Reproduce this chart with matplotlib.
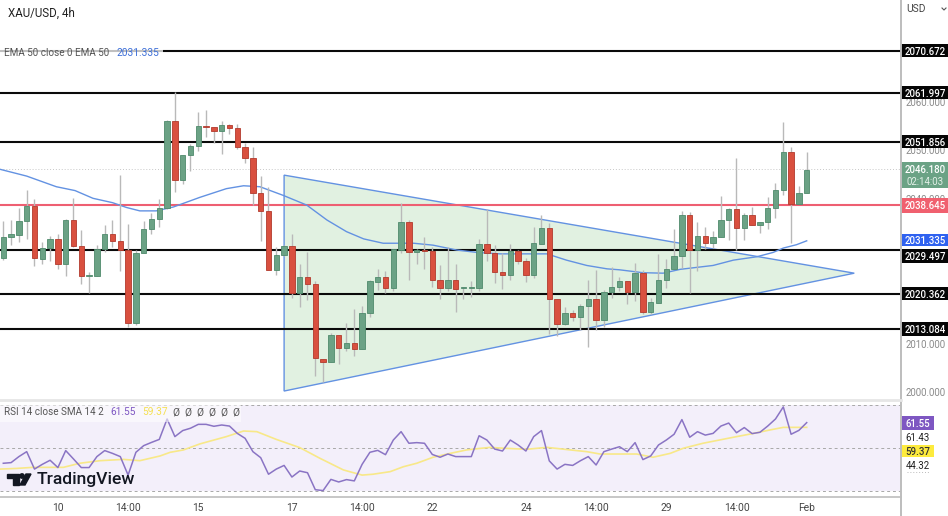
#!/usr/bin/env python3
"""XAU/USD 4h candles with EMA 50, hand drawn levels, triangle and RSI pane"""

import numpy as np
import matplotlib
matplotlib.use('Agg')
import matplotlib.pyplot as plt
from matplotlib.patches import Rectangle, Polygon, Circle

plt.rcParams['font.family'] = ['Roboto', 'DejaVu Sans']

# Candles
opens = [2027.8, 2032.1, 2032.6, 2035.4, 2038.5, 2027.6, 2029.9, 2031.7, 2026.6, 2035.6,
         2030.2, 2024.0, 2024.1, 2029.6, 2032.8, 2031.2, 2029.3, 2014.3, 2028.8, 2033.8,
         2035.9, 2038.1, 2056.1, 2043.8, 2049.0, 2050.9, 2055.0, 2054.8, 2054.0, 2055.3,
         2054.6, 2050.8, 2048.4, 2041.1, 2037.5, 2025.2, 2028.3, 2030.2, 2020.6, 2023.8,
         2022.3, 2006.9, 2006.2, 2011.7, 2009.2, 2010.2, 2009.0, 2016.3, 2022.8, 2023.9,
         2021.5, 2029.5, 2035.2, 2028.9, 2029.5, 2029.1, 2023.1, 2021.6, 2023.1, 2021.5,
         2021.6, 2021.6, 2030.6, 2028.7, 2024.9, 2024.2, 2029.1, 2027.1, 2024.3, 2030.7,
         2033.9, 2019.2, 2014.1, 2016.4, 2015.6, 2017.8, 2019.3, 2014.9, 2020.8, 2021.8,
         2023.0, 2020.8, 2024.6, 2016.6, 2018.5, 2023.1, 2025.4, 2028.2, 2036.7, 2029.4,
         2032.4, 2030.9, 2032.1, 2035.6, 2037.8, 2033.9, 2036.7, 2034.6, 2035.1, 2038.0,
         2041.8, 2049.6, 2038.9, 2041.2]
highs = [2035.5, 2035.7, 2038.0, 2041.9, 2040.0, 2031.1, 2032.4, 2032.8, 2035.9, 2040.1,
         2033.5, 2024.9, 2030.4, 2034.6, 2035.6, 2045.0, 2034.8, 2029.4, 2035.5, 2037.1,
         2039.9, 2056.4, 2062.2, 2049.0, 2051.3, 2057.9, 2058.4, 2054.8, 2056.2, 2055.5,
         2055.5, 2051.5, 2050.8, 2044.8, 2042.4, 2030.1, 2030.4, 2032.8, 2026.5, 2028.9,
         2022.9, 2006.9, 2012.2, 2011.7, 2014.2, 2017.1, 2017.8, 2023.2, 2025.5, 2025.0,
         2029.7, 2039.2, 2035.6, 2029.7, 2032.0, 2030.0, 2026.2, 2030.1, 2026.5, 2021.8,
         2023.0, 2031.6, 2037.8, 2030.4, 2028.7, 2030.6, 2029.5, 2027.7, 2034.1, 2036.6,
         2035.0, 2019.2, 2017.7, 2017.0, 2018.2, 2023.1, 2025.3, 2021.1, 2025.8, 2023.9,
         2023.0, 2026.8, 2025.3, 2019.4, 2028.6, 2027.6, 2033.8, 2037.4, 2037.3, 2035.1,
         2034.1, 2033.3, 2040.5, 2038.0, 2048.4, 2037.0, 2038.4, 2035.1, 2040.3, 2043.2,
         2055.8, 2050.8, 2042.7, 2049.6]
lows = [2027.3, 2030.4, 2031.1, 2031.6, 2026.1, 2026.6, 2027.2, 2025.4, 2024.0, 2030.1,
        2022.3, 2020.6, 2024.1, 2028.9, 2030.1, 2025.0, 2013.4, 2013.9, 2028.8, 2032.8,
        2034.2, 2037.9, 2041.5, 2043.0, 2045.7, 2049.8, 2052.7, 2051.5, 2049.2, 2053.4,
        2050.4, 2047.5, 2038.7, 2031.3, 2025.2, 2024.2, 2028.2, 2019.4, 2017.6, 2019.0,
        2003.4, 2002.0, 2006.2, 2005.7, 2008.4, 2007.5, 2009.0, 2015.6, 2021.1, 2020.4,
        2020.9, 2028.7, 2023.2, 2026.5, 2025.4, 2021.8, 2019.2, 2021.0, 2016.6, 2019.2,
        2019.6, 2020.9, 2027.1, 2022.5, 2021.3, 2023.1, 2026.5, 2022.8, 2023.7, 2030.6,
        2012.0, 2011.5, 2013.9, 2014.6, 2012.8, 2009.4, 2012.8, 2013.5, 2019.4, 2020.9,
        2018.2, 2018.9, 2016.2, 2016.2, 2018.5, 2021.6, 2025.4, 2025.6, 2020.6, 2025.1,
        2029.6, 2029.9, 2032.0, 2031.4, 2029.4, 2031.5, 2034.5, 2032.9, 2033.8, 2036.1,
        2040.8, 2030.9, 2038.9, 2041.2]
closes = [2032.1, 2032.7, 2035.4, 2038.5, 2027.7, 2029.8, 2031.7, 2026.6, 2035.6, 2030.2,
          2024.1, 2024.2, 2029.7, 2032.8, 2031.2, 2029.3, 2014.3, 2028.8, 2033.8, 2035.9,
          2038.1, 2056.1, 2043.8, 2049.0, 2050.9, 2055.0, 2054.8, 2054.0, 2055.3, 2054.6,
          2050.8, 2048.4, 2041.1, 2037.5, 2025.2, 2028.3, 2030.2, 2020.6, 2023.8, 2022.3,
          2007.0, 2006.2, 2011.7, 2009.2, 2010.2, 2009.0, 2016.3, 2022.9, 2023.9, 2021.5,
          2029.7, 2035.2, 2029.0, 2029.5, 2029.1, 2023.1, 2021.6, 2023.1, 2021.4, 2021.7,
          2021.7, 2030.6, 2028.7, 2024.9, 2024.2, 2029.1, 2027.1, 2024.3, 2030.8, 2033.9,
          2019.2, 2014.1, 2016.4, 2015.6, 2017.8, 2019.3, 2014.9, 2020.7, 2021.8, 2023.0,
          2020.8, 2024.6, 2016.6, 2018.6, 2023.1, 2025.4, 2028.2, 2036.7, 2029.4, 2032.4,
          2030.9, 2032.1, 2035.6, 2037.8, 2034.0, 2036.7, 2034.6, 2035.1, 2038.0, 2041.8,
          2049.6, 2038.9, 2041.2, 2046.0]

# EMA 50, read at these bar positions
ema_idx = [-0.4, 3, 6.8, 9.2, 11.5, 14, 15.8, 17.5, 19.6, 21.8, 25.2, 28.6, 30.8, 32.9, 35.9, 38.9,
           41.5, 44, 46.2, 48.7, 52.6, 55.1, 58.1, 60.7, 63.7, 67.1, 69.7, 72.2, 74.8, 77.4,
           79, 82, 84.6, 86.8, 91, 93.6, 96.6, 98.7, 100, 101.7, 103]
ema_vals = [2046.1, 2044.7, 2042.5, 2041.7, 2040.1, 2039.2, 2038.2, 2037.5, 2037.5, 2038.3, 2040.3,
            2042.1, 2042.7, 2042.5, 2040.7, 2038.7, 2035.6, 2033.2, 2031.7, 2030.8, 2030.8, 2030.4,
            2029.4, 2028.9, 2028.6, 2028.6, 2028.6, 2027.3, 2026.2, 2025.5, 2025.3, 2024.7, 2024.6,
            2025.4, 2026.2, 2027.3, 2028.0, 2028.9, 2029.8, 2030.5, 2031.3]

# RSI, one value per bar
rsi_vals = [42.9, 43.2, 46.0, 48.3, 40.2, 42.4, 44.3, 40.9, 48.8, 44.9, 40.9, 40.9, 46.0, 48.8,
            47.5, 46.0, 37.4, 48.0, 51.1, 52.6, 54.0, 63.5, 55.3, 58.1, 59.2, 61.0, 61.0, 60.1,
            60.7, 60.2, 56.8, 54.5, 48.3, 45.5, 37.8, 40.2, 41.9, 36.5, 39.3, 38.5, 30.6, 30.2,
            35.4, 34.2, 35.3, 34.7, 42.4, 48.0, 48.9, 46.9, 53.7, 57.6, 52.2, 52.5, 52.2, 47.0,
            45.7, 47.2, 46.0, 46.0, 46.0, 55.7, 53.7, 49.5, 48.6, 53.7, 51.4, 48.6, 55.3, 58.1,
            44.0, 40.2, 42.4, 41.9, 44.1, 46.0, 42.1, 48.3, 49.5, 50.6, 48.3, 52.5, 44.6, 46.3,
            51.4, 53.7, 56.4, 63.2, 55.0, 57.6, 56.0, 56.8, 60.2, 61.6, 57.1, 59.5, 56.7, 57.3,
            60.2, 63.5, 69.1, 56.4, 58.2, 61.8]

# RSI based MA
sma_idx = [-0.4, 1.7, 3.8, 7.7, 9.8, 12.4, 15.4, 17.5, 20.1, 21.4, 23.1, 25.2, 28.6, 30.8, 32.5, 35,
           38, 40.6, 43.6, 46, 47.4, 49.6, 51.3, 53, 55.1, 57.3, 59.4, 61.1, 62.4, 64.1, 67.1,
           69.7, 72.7, 74.8, 76.5, 81.2, 83.3, 85.5, 87.2, 89.7, 93.6, 96.2, 98.3, 100, 103]
sma_vals = [40.2, 40.5, 41.0, 41.0, 42.9, 44.1, 44.7, 44.1, 46.3, 48.0, 49.1, 51.9, 55.3, 57.9, 57.6,
            54.0, 50.2, 45.2, 39.8, 37.4, 37.8, 39.0, 41.3, 42.9, 45.7, 47.5, 49.1, 49.8, 50.3, 49.9,
            49.4, 50.3, 49.1, 48.3, 47.2, 47.2, 45.7, 47.5, 49.9, 52.2, 55.0, 56.8, 58.4, 59.6, 59.6]

# Drawn levels
black_levels = [2070.672, 2061.997, 2051.856, 2029.497, 2020.362, 2013.084]
red_level = 2038.645
last_price = 2046.180
ema_last = 2031.335

# Triangle drawing (bar, price)
triangle_idx = [36.0, 36.0, 109.1]
triangle_price = [2044.9, 2000.2, 2024.6]

# Axis labels
price_ticks = [2060, 2050, 2040, 2010, 2000]
time_idx = [7, 16, 25, 37, 46, 55, 67, 76, 85, 94, 103]
time_labels = ['10', '14:00', '15', '17', '14:00', '22', '24', '14:00', '29', '14:00', 'Feb']

W, H = 948, 516
GREEN = '#6ba285'
GREEN_EDGE = '#4f8a6c'
RED = '#d9503f'
RED_EDGE = '#b23a2d'
BLUE = '#6392e2'
LABEL_GREY = '#555555'


def pane(top, bottom, right=901):
    """Axes placed by pixel rows of the final picture"""
    ax = fig.add_axes([0, 1 - bottom / H, right / W, (bottom - top) / H])
    ax.set_xticks([])
    ax.set_yticks([])
    for s in ax.spines.values():
        s.set_visible(False)
    ax.patch.set_alpha(0)
    return ax


def tag(ax, y, height, text, bg, fg='white', xc=1.0272, x1=1.0525):
    """Coloured price label sitting right of the pane"""
    tr = ax.get_yaxis_transform()
    ax.add_patch(Rectangle((1.0, y - height / 2), x1 - 1.0, height, transform=tr,
                           facecolor=bg, edgecolor='none', clip_on=False, zorder=6))
    scale_text(ax, xc, y, text, fg, weight='medium', zorder=7)


def scale_text(ax, x, y, text, color, weight='normal', zorder=5):
    ax.text(x, y, text, transform=ax.get_yaxis_transform(), ha='center', va='center_baseline',
            color=color, fontsize=6.9, fontweight=weight, clip_on=False, zorder=zorder)


fig = plt.figure(figsize=(W / 100, H / 100), dpi=100, facecolor='white')

# Price pane
ax = pane(0, 400)
ax.set_xlim(-0.423, 115.09)
ax.set_ylim(2000 - 8 / 4.83, 2000 + 392 / 4.83)

ax.add_patch(Polygon(np.column_stack([triangle_idx, triangle_price]), closed=True,
                     facecolor='#e1f1e1', edgecolor=BLUE, linewidth=1.0, zorder=1))
ax.axhline(last_price, color='#c8c8c8', lw=0.7, ls=(0, (1, 2)), zorder=1.5)
for lv in black_levels:
    ax.axhline(lv, color='#0a0a0a', lw=1.5, zorder=2)
ax.axhline(red_level, color='#ee5f72', lw=1.5, zorder=2)
ax.plot(ema_idx, ema_vals, color=BLUE, lw=1.0, zorder=2.5)

for i in range(len(opens)):
    up = closes[i] >= opens[i]
    ax.vlines(i, lows[i], highs[i], color='#b9b9b9', lw=1.0, zorder=3)
    ax.add_patch(Rectangle((i - 0.34, min(opens[i], closes[i])), 0.68, abs(closes[i] - opens[i]),
                           facecolor=GREEN if up else RED, edgecolor=GREEN_EDGE if up else RED_EDGE,
                           linewidth=0.6, zorder=3.5))

# Right hand price scale
tr = ax.get_yaxis_transform()
for p in price_ticks:
    scale_text(ax, 1.0272, p, f'{p:.3f}', '#8a8a8a')
for lv in black_levels:
    # the 2029 label is pushed down by the EMA label above it
    tag(ax, lv - 1.3 if lv == 2029.497 else lv, 2.8, f'{lv:.3f}', '#050505')
tag(ax, red_level, 3.0, f'{red_level:.3f}', '#f0606f')
tag(ax, ema_last + 0.15, 2.6, f'{ema_last:.3f}', '#2f62f0')
# Last price tag holds the countdown too
ax.add_patch(Rectangle((1.0, 2042.2), 0.0525, 5.4, transform=tr, facecolor=GREEN,
                       edgecolor='none', clip_on=False, zorder=6))
scale_text(ax, 1.0272, last_price, f'{last_price:.3f}', 'white', weight='medium', zorder=7)
scale_text(ax, 1.0272, 2043.7, '02:14:03', '#e4f0e8', zorder=7)

ax.text(0.0085, 1 - 13 / 400, 'XAU/USD, 4h', transform=ax.transAxes, va='center', fontsize=8.3, color='#222222')
# Legend keeps a pale backing, so the top level only shows faintly behind it
ax.add_patch(Rectangle((0, 1 - 60 / 400), 163 / 901, 14 / 400, transform=ax.transAxes,
                       facecolor='white', alpha=0.75, edgecolor='none', zorder=2.2))
ax.text(0.0045, 1 - 53 / 400, 'EMA 50 close 0 EMA 50', transform=ax.transAxes, va='center',
        fontsize=7.1, color=LABEL_GREY, zorder=8)
ax.text(0.1295, 1 - 53 / 400, f'{ema_last:.3f}', transform=ax.transAxes, va='center',
        fontsize=7.3, color='#3d6fd8', zorder=8)

# RSI pane
rsi_ax = pane(403, 497)
rsi_ax.set_xlim(ax.get_xlim())
rsi_ax.set_ylim(50 - (497 - 448) / 2.15, 50 + (448 - 403) / 2.15)
rsi_ax.axhspan(30, 70, color='#f3effa', lw=0, zorder=0)
for lv in [70, 50, 30]:
    rsi_ax.axhline(lv, color='#a8a8a8', lw=0.7, ls=(0, (3, 3)), zorder=1)
rsi_ax.plot(sma_idx, sma_vals, color='#f8e888', lw=1.2, zorder=2)
rsi_ax.plot(range(len(rsi_vals)), rsi_vals, color='#8a74c4', lw=1.1, zorder=3)

# Legend strip of the RSI pane
rsi_ax.add_patch(Rectangle((0, 1 - 19 / 94), 0.268, 17 / 94, transform=rsi_ax.transAxes,
                           facecolor='white', alpha=0.55, edgecolor='none', zorder=3.5))
rsi_ax.text(0.0045, 1 - 9 / 94, 'RSI 14 close SMA 14 2', transform=rsi_ax.transAxes, va='center',
            fontsize=7.1, color=LABEL_GREY, zorder=4)
rsi_ax.text(0.1225, 1 - 9 / 94, '61.55', transform=rsi_ax.transAxes, va='center',
            fontsize=7.3, color='#7e57c2', zorder=4)
rsi_ax.text(0.1575, 1 - 9 / 94, '59.37', transform=rsi_ax.transAxes, va='center',
            fontsize=7.3, color='#f5e050', zorder=4)
rsi_ax.text(0.192, 1 - 9 / 94, 'Ø  Ø  Ø  Ø  Ø  Ø', transform=rsi_ax.transAxes, va='center',
            fontsize=7.3, color=LABEL_GREY, zorder=4)

# RSI scale labels
tag(rsi_ax, 61.55, 6.5, '61.55', '#7e57c2', xc=1.0185, x1=1.0366)
scale_text(rsi_ax, 1.0185, 55.1, '61.43', '#222222', zorder=7)
tag(rsi_ax, 48.6, 5.6, '59.37', '#fdeb3d', fg='#333333', xc=1.0185, x1=1.0366)
scale_text(rsi_ax, 1.0185, 42.1, '44.32', '#222222', zorder=7)

# Time axis labels
for x, s in zip(time_idx, time_labels):
    rsi_ax.text(x, -11 / 94, s, transform=rsi_ax.get_xaxis_transform(), ha='center', va='center',
                fontsize=7.4, color='#444444', clip_on=False)

# Frame lines and bits of UI, placed in figure pixels
ui = fig.add_axes([0, 0, 1, 1], zorder=10)
ui.set_xlim(0, W)
ui.set_ylim(H, 0)
ui.axis('off')
ui.patch.set_alpha(0)
ui.plot([901, 901], [0, H], color='#bdbdbd', lw=1.4)
ui.plot([0, 901], [497, 497], color='#bdbdbd', lw=1.2)
ui.plot([0, 901], [399.5, 399.5], color='#e6e6e6', lw=2)
ui.text(906, 9, 'USD', va='center', fontsize=7.4, color='#444444')
ui.plot([942, 944, 946], [8, 10, 8], color='#555555', lw=0.8)
ui.plot([907, 930], [472, 472], color='#bbbbbb', lw=0.7, ls=(0, (1, 2)))

# TradingView mark
ui.add_patch(Polygon([(7, 474), (19, 474), (19, 485), (13, 485), (13, 478), (7, 478)], color='#131722'))
ui.add_patch(Circle((22, 476), 2.2, color='#131722'))
ui.add_patch(Polygon([(26, 474), (31, 474), (25, 485), (20, 485)], color='#131722'))
ui.text(37, 479.5, 'TradingView', va='center', fontsize=12.6, fontweight='medium', color='#131722')

fig.savefig('out.png', dpi=100)
